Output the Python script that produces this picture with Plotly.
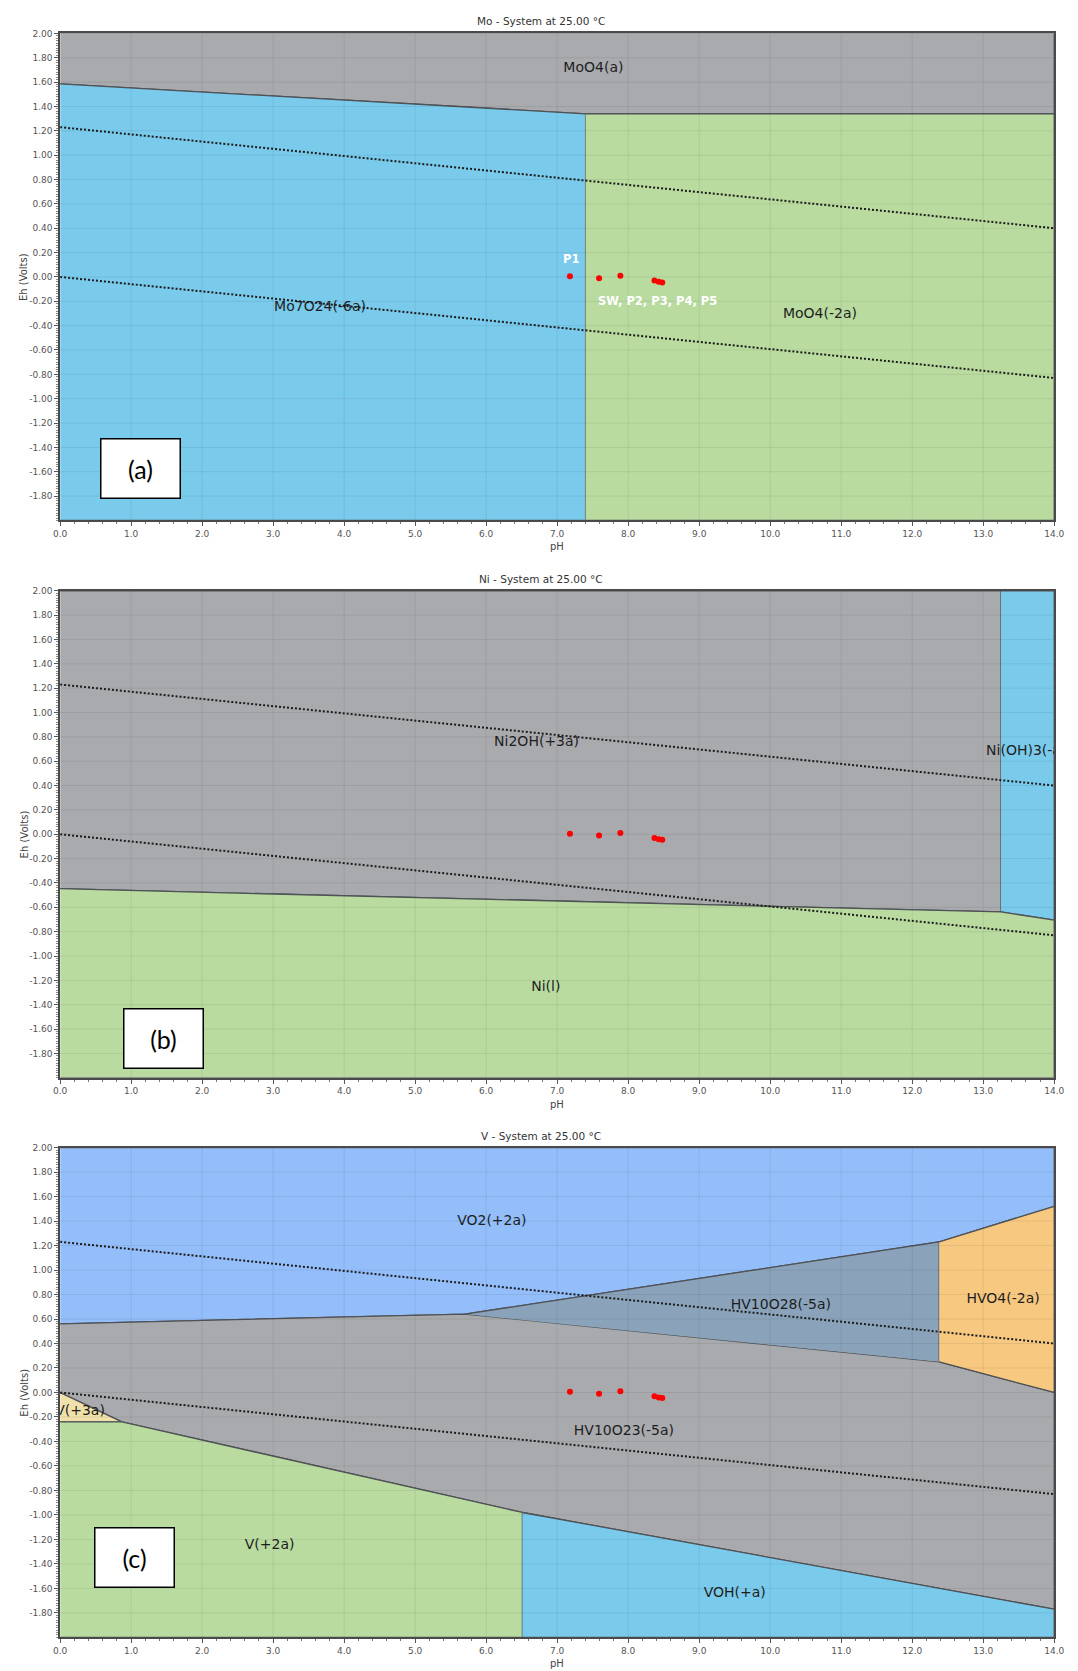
import plotly.graph_objects as go

# ---------------------------------------------------------------- data
# Water stability lines (Eh vs pH)
water_ph = [0.0, 14.0]
water_upper_eh = [1.23, 0.40]
water_lower_eh = [0.0, -0.83]

# Sample points (pH, Eh)
sample_ph = [7.18, 7.59, 7.89, 8.37, 8.43, 8.48]
sample_eh = [0.005, -0.01, 0.01, -0.03, -0.04, -0.045]

# Mo system regions
moo4a_ph = [0.0, 7.4, 14.0, 14.0, 0.0]
moo4a_eh = [1.585, 1.34, 1.34, 2.0, 2.0]
mo7o24_ph = [0.0, 7.4, 7.4, 0.0]
mo7o24_eh = [1.585, 1.34, -2.0, -2.0]
moo4m2_ph = [7.4, 14.0, 14.0, 7.4]
moo4m2_eh = [1.34, 1.34, -2.0, -2.0]

# Ni system regions
ni2oh_ph = [0.0, 13.25, 13.25, 0.0]
ni2oh_eh = [-0.447, -0.638, 2.0, 2.0]
nioh3_ph = [13.25, 14.0, 14.0, 13.25]
nioh3_eh = [-0.638, -0.705, 2.0, 2.0]
nil_ph = [0.0, 13.25, 14.0, 14.0, 0.0]
nil_eh = [-0.447, -0.638, -0.705, -2.0, -2.0]

# V system regions
vo2_ph = [0.0, 5.70, 12.38, 14.0, 14.0, 0.0]
vo2_eh = [0.56, 0.64, 1.23, 1.52, 2.0, 2.0]
hv10o28_ph = [5.70, 12.38, 12.38]
hv10o28_eh = [0.64, 1.23, 0.25]
hvo4_ph = [12.38, 14.0, 14.0, 12.38]
hvo4_eh = [1.23, 1.52, 0.0, 0.25]
hv10o23_ph = [0.0, 5.70, 12.38, 14.0, 14.0, 6.51, 0.87, 0.0]
hv10o23_eh = [0.56, 0.64, 0.25, 0.0, -1.77, -0.98, -0.24, 0.0]
v3a_ph = [0.0, 0.87, 0.0]
v3a_eh = [0.0, -0.24, -0.24]
v2a_ph = [0.0, 0.87, 6.51, 6.51, 0.0]
v2a_eh = [-0.24, -0.24, -0.98, -2.0, -2.0]
voh_ph = [6.51, 14.0, 14.0, 6.51]
voh_eh = [-0.98, -1.77, -2.0, -2.0]

# Axis ticks
x_ticks = [float(v) for v in range(0, 15)]
y_ticks = [2.0 - 0.2 * i for i in range(20)]  # 2.00 .. -1.80

# ---------------------------------------------------------------- styling
W, H = 1078, 1671
X0, X1 = 54.0, 1064.0
PANELS = [(28.5, 517.0), (587.5, 1076.0), (1146.0, 1637.3)]
TITLES = ["Mo - System at 25.00 °C", "Ni - System at 25.00 °C", "V - System at 25.00 °C"]
TITLE_X = 543.0
TITLE_Y = [16.0, 575.5, 1134.0]
TAGS = ["(a)", "(b)", "(c)"]
TAG_POS = [(1.13, -1.574), (1.45, -1.68), (1.05, -1.35)]

GRAY = "#a9aaad"
BLUE = "#7acaec"
GREEN = "#b9dba0"
SKY = "#93befa"
SLATE = "#8aa3ba"
ORANGE = "#f7c880"
BEIGE = "#f0e1aa"
EDGE = "#4f5256"
LABEL_FONT = dict(family="DejaVu Sans", size=14, color="#1e1e1e")

fig = go.Figure()


def axis_names(i):
    s = "" if i == 0 else str(i + 1)
    return "x" + s, "y" + s


def region(i, ph, eh, color):
    xa, ya = axis_names(i)
    fig.add_trace(go.Scatter(
        x=ph, y=eh, xaxis=xa, yaxis=ya, mode="lines", fill="toself",
        fillcolor=color, line=dict(color=EDGE, width=1.3),
        hoverinfo="skip", showlegend=False))


def label(i, text, ph, eh, pos="middle center"):
    xa, ya = axis_names(i)
    fig.add_trace(go.Scatter(
        x=[ph], y=[eh], xaxis=xa, yaxis=ya, mode="text", text=[text],
        textposition=pos, textfont=LABEL_FONT, cliponaxis=True,
        hoverinfo="skip", showlegend=False))


# Panel (a): Mo
region(0, moo4a_ph, moo4a_eh, GRAY)
region(0, mo7o24_ph, mo7o24_eh, BLUE)
region(0, moo4m2_ph, moo4m2_eh, GREEN)
label(0, "MoO4(a)", 7.51, 1.71)
label(0, "Mo7O24(-6a)", 3.66, -0.25)
label(0, "MoO4(-2a)", 10.70, -0.31)

# Panel (b): Ni
region(1, ni2oh_ph, ni2oh_eh, GRAY)
region(1, nioh3_ph, nioh3_eh, BLUE)
region(1, nil_ph, nil_eh, GREEN)
label(1, "Ni2OH(+3a)", 6.71, 0.75)
label(1, "Ni(OH)3(-a)", 13.04, 0.68, "middle right")
label(1, "Ni(l)", 6.84, -1.26)

# Panel (c): V
region(2, vo2_ph, vo2_eh, SKY)
region(2, hv10o23_ph, hv10o23_eh, GRAY)
region(2, hv10o28_ph, hv10o28_eh, SLATE)
region(2, hvo4_ph, hvo4_eh, ORANGE)
region(2, v3a_ph, v3a_eh, BEIGE)
region(2, v2a_ph, v2a_eh, GREEN)
region(2, voh_ph, voh_eh, BLUE)
label(2, "VO2(+2a)", 6.08, 1.40)
label(2, "HV10O28(-5a)", 10.15, 0.71)
label(2, "HVO4(-2a)", 13.28, 0.76)
label(2, "HV10O23(-5a)", 7.94, -0.32)
label(2, "V(+2a)", 2.95, -1.25)
label(2, "VOH(+a)", 9.50, -1.645)
label(2, "V(+3a)", 0.63, -0.155, "middle left")

# Water lines and sample points on every panel
for i in range(3):
    xa, ya = axis_names(i)
    for eh in (water_upper_eh, water_lower_eh):
        fig.add_trace(go.Scatter(
            x=water_ph, y=eh, xaxis=xa, yaxis=ya, mode="lines",
            line=dict(color="#1c1c1c", width=2, dash="2px,2px"),
            hoverinfo="skip", showlegend=False))
    fig.add_trace(go.Scatter(
        x=sample_ph, y=sample_eh, xaxis=xa, yaxis=ya, mode="markers",
        marker=dict(color="#ff0000", size=6, line=dict(width=0)),
        hoverinfo="skip", showlegend=False))

# ---------------------------------------------------------------- layout
layout = dict(
    width=W, height=H, margin=dict(l=0, r=0, t=0, b=0),
    paper_bgcolor="white", plot_bgcolor="white", showlegend=False,
    font=dict(family="DejaVu Sans", color="#505050"),
)
shapes = []
annotations = []

for i, (top, bot) in enumerate(PANELS):
    xa, ya = axis_names(i)
    xkey = "xaxis" + xa[1:]
    ykey = "yaxis" + ya[1:]
    layout[xkey] = dict(
        domain=[X0 / W, X1 / W], range=[0, 14], anchor=ya,
        tickmode="array", tickvals=x_ticks,
        ticktext=[f"{v:.1f}" for v in x_ticks],
        tickfont=dict(size=9, color="#555555"),
        ticks="outside", ticklen=4, tickcolor="#555555",
        minor=dict(tickmode="linear", tick0=0, dtick=0.2, ticks="outside",
                   ticklen=2, tickcolor="#777777"),
        showgrid=False, zeroline=False, showline=True, mirror=True,
        linecolor="#4a4a4a", linewidth=1.6, fixedrange=True,
    )
    layout[ykey] = dict(
        domain=[1 - bot / H, 1 - top / H], range=[-2, 2], anchor=xa,
        tickmode="array", tickvals=y_ticks,
        ticktext=[("0.00" if abs(v) < 1e-9 else f"{v:.2f}") for v in y_ticks],
        tickfont=dict(size=9, color="#555555"),
        ticks="outside", ticklen=4, tickcolor="#555555",
        minor=dict(tickmode="linear", tick0=0, dtick=0.02, ticks="outside",
                   ticklen=2, tickcolor="#8a8a8a"),
        showgrid=False, zeroline=False, showline=True, mirror=True,
        linecolor="#4a4a4a", linewidth=1.6, fixedrange=True,
    )
    # faint grid drawn over the filled regions
    for v in range(1, 14):
        shapes.append(dict(type="line", xref=xa, yref=ya, x0=v, x1=v, y0=-2, y1=2,
                           line=dict(color="rgba(0,0,0,0.07)", width=1), layer="above"))
    for v in y_ticks[1:]:
        shapes.append(dict(type="line", xref=xa, yref=ya, x0=0, x1=14, y0=v, y1=v,
                           line=dict(color="rgba(0,0,0,0.07)", width=1), layer="above"))

    annotations.append(dict(
        text=TITLES[i], xref="paper", yref="paper", x=TITLE_X / W, y=1 - TITLE_Y[i] / H,
        xanchor="center", yanchor="middle", showarrow=False,
        font=dict(size=10.5, color="#333333")))
    annotations.append(dict(
        text="pH", xref=xa + " domain", yref=ya + " domain", x=0.5, y=0,
        xanchor="center", yanchor="top", yshift=-19, showarrow=False,
        font=dict(size=10, color="#444444")))
    annotations.append(dict(
        text="Eh (Volts)", xref=xa + " domain", yref=ya + " domain", x=0, y=0.5,
        xanchor="center", yanchor="middle", xshift=-36, textangle=-90,
        showarrow=False, font=dict(size=10, color="#444444")))
    annotations.append(dict(
        text=TAGS[i], xref=xa, yref=ya, x=TAG_POS[i][0], y=TAG_POS[i][1],
        xanchor="center", yanchor="middle", showarrow=False,
        width=76, height=56, borderpad=1, bordercolor="#000000", borderwidth=1.5,
        bgcolor="white", font=dict(family="Lato", size=25, color="#000000")))

# sample labels on the Mo panel
annotations.append(dict(
    text="<b>P1</b>", xref="x", yref="y", x=7.19, y=0.15, xanchor="center",
    yanchor="middle", showarrow=False,
    font=dict(family="DejaVu Sans", size=11.5, color="white")))
annotations.append(dict(
    text="<b>SW, P2, P3, P4, P5</b>", xref="x", yref="y", x=7.55, y=-0.2,
    xanchor="left", yanchor="middle", showarrow=False,
    font=dict(family="DejaVu Sans", size=11.5, color="white")))

layout["shapes"] = shapes
layout["annotations"] = annotations
fig.update_layout(**layout)

fig.write_html("out.html")
